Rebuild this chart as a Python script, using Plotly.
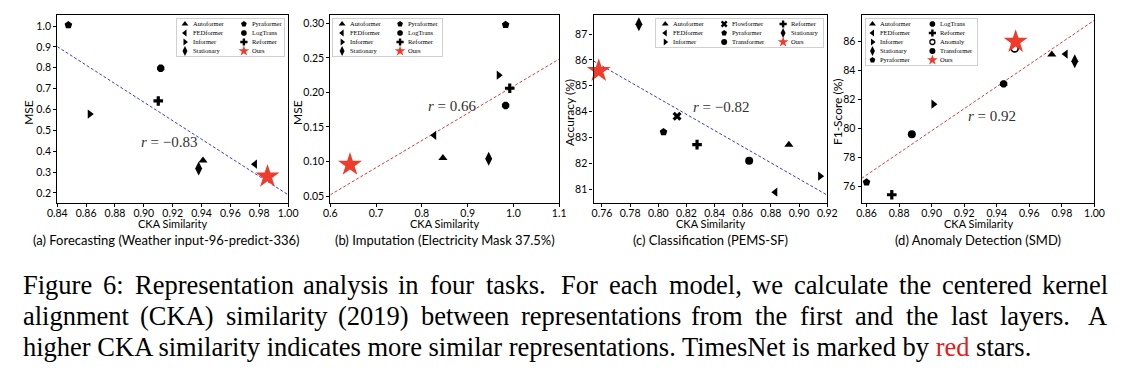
import numpy as np
import plotly.graph_objects as go

# the page body adds an 8px margin: the figure is drawn 8px in from the top-left
PAGE_W, PAGE_H, OFF = 1129, 371, 8
W, H = PAGE_W - OFF, PAGE_H - OFF

# ---------------- data ----------------
a_models = ["Autoformer", "FEDformer", "Informer", "Stationary",
            "Pyraformer", "LogTrans", "Reformer", "Ours"]
a_cka = [0.941, 0.977, 0.8625, 0.938, 0.8477, 0.9117, 0.910, 0.9857]
a_mse = [0.356, 0.338, 0.578, 0.317, 1.005, 0.798, 0.641, 0.279]
a_r = "−0.83"

b_models = ["Autoformer", "FEDformer", "Informer", "Stationary",
            "Pyraformer", "LogTrans", "Reformer", "Ours"]
b_cka = [0.846, 0.827, 0.968, 0.946, 0.983, 0.983, 0.992, 0.643]
b_mse = [0.105, 0.138, 0.225, 0.104, 0.298, 0.181, 0.206, 0.0955]
b_r = "0.66"

c_models = ["Autoformer", "FEDformer", "Informer", "Flowformer", "Pyraformer",
            "Transformer", "Reformer", "Stationary", "Ours"]
c_cka = [0.8927, 0.8831, 0.9149, 0.8133, 0.8037, 0.8645, 0.8275, 0.7862, 0.7577]
c_acc = [82.72, 80.88, 81.50, 83.82, 83.21, 82.10, 82.72, 87.38, 85.58]
c_r = "−0.82"

d_models = ["Autoformer", "FEDformer", "Informer", "Stationary", "Pyraformer",
            "LogTrans", "Reformer", "Anomaly", "Transformer", "Ours"]
d_cka = [0.9738, 0.9823, 0.9011, 0.9879, 0.860, 0.9442, 0.8755, 0.951, 0.8878, 0.9516]
d_f1 = [85.12, 85.15, 81.68, 84.66, 76.28, 83.09, 75.42, 85.54, 79.60, 86.0]
d_r = "0.92"

a_xticks = [0.84, 0.86, 0.88, 0.90, 0.92, 0.94, 0.96, 0.98, 1.00]
a_yticks = [0.2, 0.3, 0.4, 0.5, 0.6, 0.7, 0.8, 0.9, 1.0]
b_xticks = [0.6, 0.7, 0.8, 0.9, 1.0, 1.1]
b_yticks = [0.05, 0.10, 0.15, 0.20, 0.25, 0.30]
c_xticks = [0.76, 0.78, 0.80, 0.82, 0.84, 0.86, 0.88, 0.90, 0.92]
c_yticks = [81, 82, 83, 84, 85, 86, 87]
d_xticks = [0.86, 0.88, 0.90, 0.92, 0.94, 0.96, 0.98, 1.00]
d_yticks = [76, 78, 80, 82, 84, 86]

subcaptions = ["(a) Forecasting (Weather input-96-predict-336)",
               "(b) Imputation (Electricity Mask 37.5%)",
               "(c) Classification (PEMS-SF)",
               "(d) Anomaly Detection (SMD)"]
xtitle = "CKA Similarity"
ytitles = ["MSE", "MSE", "Accuracy (%)", "F1-Score (%)"]
caption_line1 = "Figure 6: Representation analysis in four tasks. For each model, we calculate the centered kernel"
caption_line2 = "alignment (CKA) similarity (2019) between representations from the first and the last layers. A"
caption_line3 = ("higher CKA similarity indicates more similar representations. TimesNet is marked by "
                 "<span style='color:#e0201c'>red</span> stars.")

# ---------------- styles / layout ----------------
SANS = "Lato"
SERIF = "Liberation Serif"
CAP_SIZE = 26.5
SYMBOLS = {"Autoformer": "triangle-up", "FEDformer": "triangle-left",
           "Informer": "triangle-right", "Stationary": "diamond-tall",
           "Pyraformer": "pentagon", "LogTrans": "octagon", "Reformer": "cross",
           "Flowformer": "x", "Transformer": "circle", "Anomaly": "circle-open",
           "Ours": "star"}
SIZES = {"Ours": 18, "Stationary": 10, "Flowformer": 8, "Reformer": 8}
LSIZES = {"Ours": 8, "Stationary": 7}
STAR = "#ef3b2c"

panels = [
    dict(models=a_models, x=a_cka, y=a_mse, r=a_r, xr=[0.84, 1.00], yr=[0.152, 1.053],
         xt=a_xticks, yt=a_yticks, xfmt=".2f", yfmt=".1f", line="#3a3ad8", rpos=(0.918, 0.443)),
    dict(models=b_models, x=b_cka, y=b_mse, r=b_r, xr=[0.6, 1.1], yr=[0.040, 0.312],
         xt=b_xticks, yt=b_yticks, xfmt=".1f", yfmt=".2f", line="#e03a3a", rpos=(0.866, 0.181)),
    dict(models=c_models, x=c_cka, y=c_acc, r=c_r, xr=[0.754, 0.92], yr=[80.46, 87.74],
         xt=c_xticks, yt=c_yticks, xfmt=".2f", yfmt="d", line="#3a3ad8", rpos=(0.845, 84.16)),
    dict(models=d_models, x=d_cka, y=d_f1, r=d_r, xr=[0.857, 1.00], yr=[74.85, 87.85],
         xt=d_xticks, yt=d_yticks, xfmt=".2f", yfmt="d", line="#e03a3a", rpos=(0.937, 80.88)),
]
# positions in page pixels
AX = [(48, 283), (326, 559), (594, 832), (867, 1104)]
TOP, BOT = 15, 203
YTITLE_X = [18, 292, 569, 842]
LEG = [dict(box=(170, 19, 279, 56), cols=[8, 68], rows=4),
       dict(box=(329, 19, 440, 56), cols=[9, 68], rows=4),
       dict(box=(658, 19, 828, 47), cols=[9, 69, 129], rows=3),
       dict(box=(871, 19, 984, 65), cols=[7, 68], rows=5)]

# Times New Roman advance widths (1/1000 em), used to justify the caption lines
TNR = {" ": 250, "(": 333, ")": 333, ",": 250, "-": 333, ".": 250, ":": 278,
       "A": 722, "C": 667, "F": 556, "K": 722, "N": 722, "R": 667, "T": 611}
TNR.update({d: 500 for d in "0123456789"})
TNR.update(dict(zip("abcdefghijklmnopqrstuvwxyz",
                    [444, 500, 444, 500, 444, 333, 500, 500, 278, 278, 500, 278, 778,
                     500, 500, 500, 500, 333, 389, 278, 500, 500, 722, 500, 500, 444])))

# pull the x tick labels a little closer to the axis when supported
try:
    go.layout.XAxis(ticklabelstandoff=-3)
    XSTANDOFF = dict(ticklabelstandoff=-3)
except Exception:
    XSTANDOFF = {}


def px2x(p):
    return (p - OFF) / W


def px2y(p):
    return 1 - (p - OFF) / H


fig = go.Figure()
layout = dict(width=W, height=H, margin=dict(l=0, r=0, t=0, b=0), autosize=False,
              paper_bgcolor="white", plot_bgcolor="white", showlegend=False,
              font=dict(family=SANS, color="black"))
annotations = []

for i, p in enumerate(panels):
    k = i + 1
    xa, ya = f"x{k}", f"y{k}"
    slope, icpt = np.polyfit(p["x"], p["y"], 1)
    lx = np.array(p["xr"])
    fig.add_trace(go.Scatter(x=lx, y=slope * lx + icpt, mode="lines", xaxis=xa, yaxis=ya,
                             line=dict(color=p["line"], width=1, dash="3px,2px"),
                             hoverinfo="skip"))
    for m, xv, yv in zip(p["models"], p["x"], p["y"]):
        col = STAR if m == "Ours" else "black"
        sym = SYMBOLS[m]
        mk = dict(symbol=sym, size=SIZES.get(m, 8), color=col, line=dict(width=0))
        if sym == "circle-open":
            mk = dict(symbol=sym, size=7, color="black", line=dict(width=1.6, color="black"))
        fig.add_trace(go.Scatter(x=[xv], y=[yv], mode="markers", xaxis=xa, yaxis=ya,
                                 marker=mk, name=m, cliponaxis=False))
    l, r = AX[i]
    axis_common = dict(showline=True, mirror=True, linecolor="black", linewidth=1.3,
                       ticks="outside", ticklen=3, tickwidth=1, tickcolor="black",
                       showgrid=False, zeroline=False, tickfont=dict(size=10.5, family=SANS))
    layout[f"xaxis{k}"] = dict(domain=[px2x(l), px2x(r)], anchor=ya, range=p["xr"],
                               tickvals=p["xt"], tickformat=p["xfmt"], **XSTANDOFF, **axis_common)
    layout[f"yaxis{k}"] = dict(domain=[px2y(BOT), px2y(TOP)], anchor=xa, range=p["yr"],
                               tickvals=p["yt"], tickformat=p["yfmt"], **axis_common)
    annotations.append(dict(x=px2x((l + r) / 2), y=px2y(223), xref="paper", yref="paper",
                            text=xtitle, showarrow=False, font=dict(size=11), borderpad=0,
                            xanchor="center", yanchor="middle"))
    annotations.append(dict(x=px2x(YTITLE_X[i]), y=px2y(112), xref="paper", yref="paper",
                            text=ytitles[i], showarrow=False, textangle=-90, font=dict(size=12),
                            borderpad=0, xanchor="center", yanchor="middle"))
    annotations.append(dict(x=p["rpos"][0], y=p["rpos"][1], xref=xa, yref=ya,
                            text=f"<i>r</i> = {p['r']}", showarrow=False,
                            font=dict(family=SERIF, size=15, color="#333333")))
    annotations.append(dict(x=px2x((l + r) / 2 - (6 if i == 0 else 0)), y=px2y(240),
                            xref="paper", yref="paper", text=subcaptions[i], showarrow=False,
                            borderpad=0, font=dict(family=SANS, size=13),
                            xanchor="center", yanchor="middle"))

    # legend box drawn on its own small axes
    lg = LEG[i]
    bl, bt, br, bb = lg["box"]
    lk = k + 4
    lxa, lya = f"x{lk}", f"y{lk}"
    for j, m in enumerate(p["models"]):
        cidx, ridx = j // lg["rows"], j % lg["rows"]
        mx = lg["cols"][cidx]
        my = 5 + 9 * ridx
        col = STAR if m == "Ours" else "black"
        sym = SYMBOLS[m]
        mk = dict(symbol=sym, size=LSIZES.get(m, 6), color=col, line=dict(width=0))
        if sym == "circle-open":
            mk = dict(symbol=sym, size=5, color="black", line=dict(width=1.3, color="black"))
        fig.add_trace(go.Scatter(x=[mx], y=[my], mode="markers", xaxis=lxa, yaxis=lya,
                                 marker=mk, hoverinfo="skip", cliponaxis=False))
        annotations.append(dict(x=mx + 7, y=my, xref=lxa, yref=lya, text=m, showarrow=False,
                                xanchor="left", yanchor="middle", borderpad=0,
                                font=dict(family=SERIF, size=6.5, color="black")))
    leg_axis = dict(showline=True, mirror=True, linecolor="#d0d0d0", linewidth=0.8,
                    showticklabels=False, ticks="", showgrid=False, zeroline=False,
                    fixedrange=True)
    layout[f"xaxis{lk}"] = dict(domain=[px2x(bl), px2x(br)], anchor=lya, range=[0, br - bl], **leg_axis)
    layout[f"yaxis{lk}"] = dict(domain=[px2y(bb), px2y(bt)], anchor=lxa, range=[bb - bt, 0], **leg_axis)


# ---- figure caption: lines 1 and 2 justified word by word, line 3 left-aligned ----
def word_w(word):
    return sum(TNR.get(ch, 500) for ch in word) / 1000 * CAP_SIZE


def justified(line, yc, left=12, right=1116):
    words = line.split(" ")
    widths = [word_w(w) for w in words]
    weights = [2 if w.endswith(".") else 1 for w in words[:-1]]
    base = 0.25 * CAP_SIZE
    extra = (right - left) - sum(widths) - base * len(weights)
    x = left
    for n, w in enumerate(words):
        annotations.append(dict(x=px2x(x), y=px2y(yc), xref="paper", yref="paper", text=w,
                                showarrow=False, xanchor="left", yanchor="middle",
                                borderpad=0, font=dict(family=SERIF, size=CAP_SIZE, color="black")))
        if n < len(weights):
            x += widths[n] + base + extra * weights[n] / sum(weights)


justified(caption_line1, 285)
justified(caption_line2, 316)
annotations.append(dict(x=px2x(12), y=px2y(347), xref="paper", yref="paper", text=caption_line3,
                        showarrow=False, xanchor="left", yanchor="middle", borderpad=0,
                        font=dict(family=SERIF, size=CAP_SIZE, color="black")))

layout["annotations"] = annotations
fig.update_layout(**layout)
fig.write_html("out.html")
